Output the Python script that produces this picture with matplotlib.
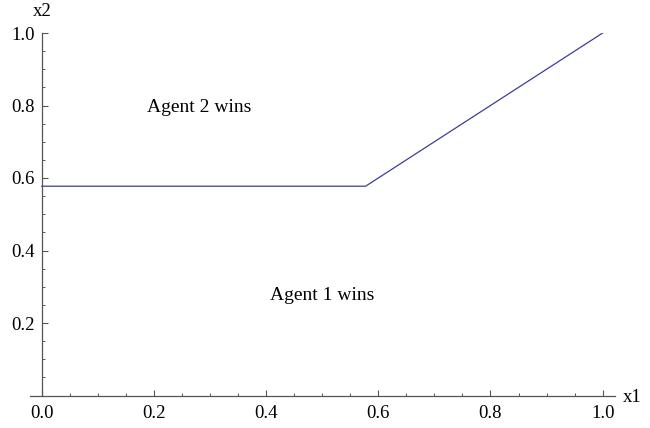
import numpy as np
from matplotlib import pyplot as plt
from matplotlib.ticker import MultipleLocator

# boundary between the two regions
kink = 1 / np.sqrt(3)
bx = [0.0, kink, 1.0]
by = [kink, kink, 1.0]

regions = ["Agent 2 wins", "Agent 1 wins"]
region_x = [0.28, 0.5]
region_y = [0.795, 0.275]

xtick_vals = [0, 0.2, 0.4, 0.6, 0.8, 1.0]
xtick_labels = ['0.0', '0.2', '0.4', '0.6', '0.8', '1.0']
ytick_vals = [0.2, 0.4, 0.6, 0.8, 1.0]
ytick_labels = ['0.2', '0.4', '0.6', '0.8', '1.0']

plt.rcParams['font.family'] = ['Liberation Serif', 'DejaVu Serif']
plt.rcParams['font.size'] = 13.5

fig = plt.figure(figsize=(6.5, 4.28), dpi=100)
axes = fig.add_axes([30/650, 1-395.5/428, 585/650, 362.5/428])

axes.plot(bx, by, color='#3d3d99', lw=0.9)
for t, x, y in zip(regions, region_x, region_y):
    axes.text(x, y, t, ha='center', va='center', fontsize=14)

axes.set_xlim(-0.021, 1.022)
axes.set_ylim(0, 1)
for s in ['top', 'right']:
    axes.spines[s].set_visible(False)
axes.spines['left'].set_position(('data', 0))
axes.spines['left'].set_bounds(0, 1)
for s in ['left', 'bottom']:
    axes.spines[s].set_color('#555555')
    axes.spines[s].set_linewidth(0.9)

axes.xaxis.set_minor_locator(MultipleLocator(0.05))
axes.yaxis.set_minor_locator(MultipleLocator(0.05))
axes.set_xticks(xtick_vals)
axes.set_xticklabels(xtick_labels)
axes.set_yticks(ytick_vals)
axes.set_yticklabels(ytick_labels)
axes.tick_params(which='major', direction='in', length=4.5, width=0.8, color='#555555')
axes.tick_params(which='minor', direction='in', length=2.5, width=0.7, color='#555555')
axes.tick_params(axis='x', which='major', pad=7)
axes.tick_params(axis='y', which='major', pad=5)

fig.text(632/650, 1-398/428, 'x1', ha='center', va='center', fontsize=13.5)
fig.text(42/650, 1-12/428, 'x2', ha='center', va='center', fontsize=13.5)

plt.savefig('out.png', dpi=100)
